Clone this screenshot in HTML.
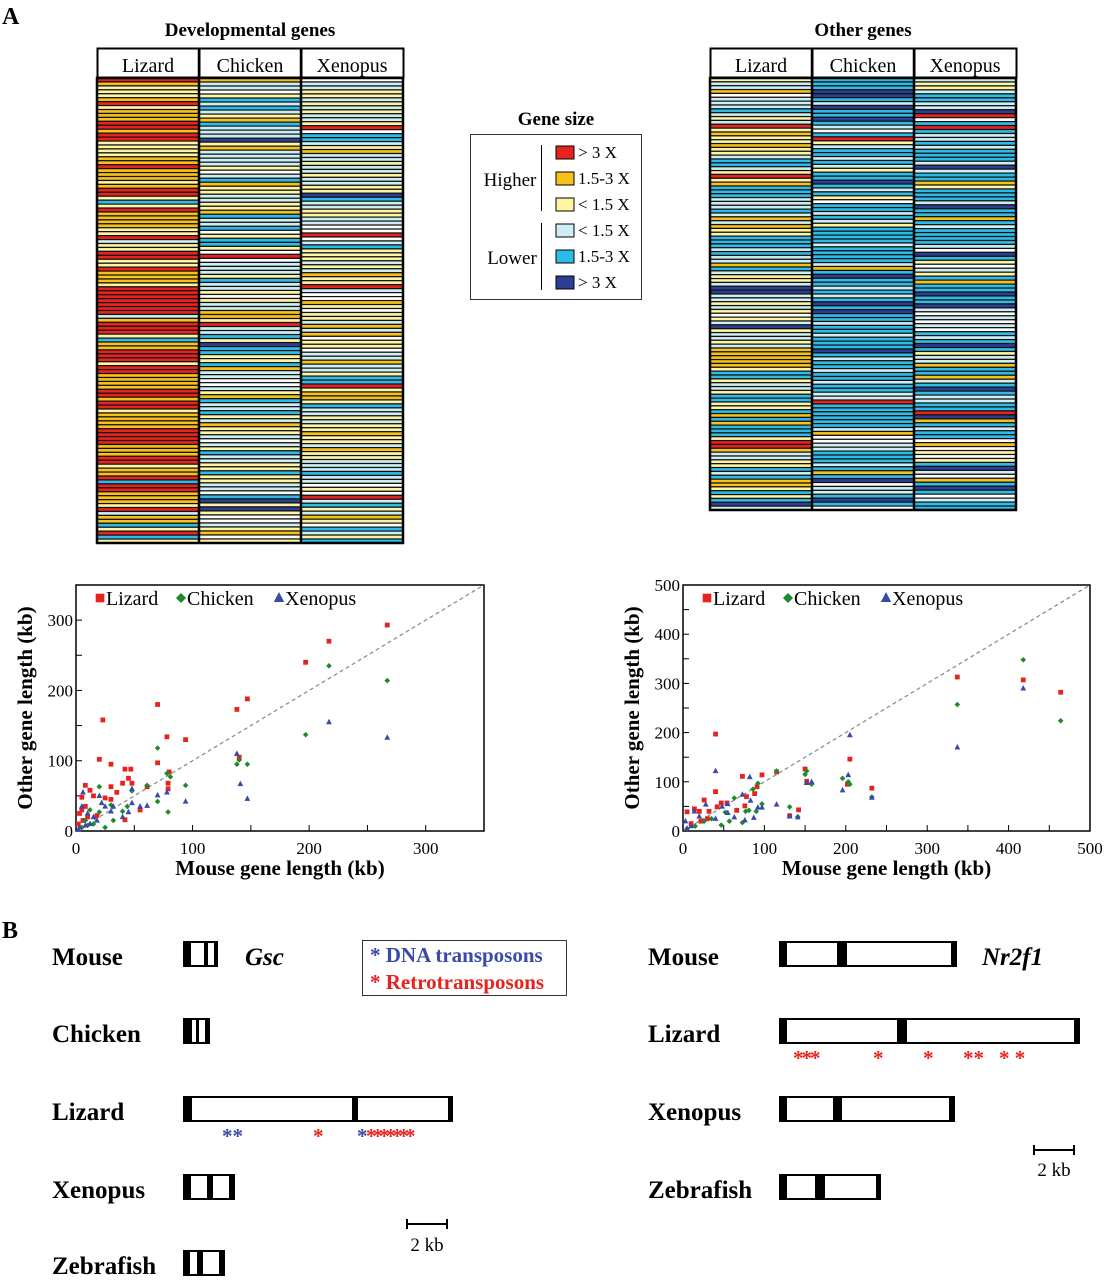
<!DOCTYPE html>
<html><head><meta charset="utf-8"><style>
body{margin:0;background:#fff;}
svg{display:block;font-family:"Liberation Serif",serif;}
</style></head><body>
<svg id="fig" width="1105" height="1280" viewBox="0 0 1105 1280" xmlns="http://www.w3.org/2000/svg">
<text x="2" y="24" font-size="24" font-weight="bold">A</text>
<text x="2" y="938" font-size="24" font-weight="bold">B</text>
<text x="250" y="36" font-size="19" font-weight="bold" text-anchor="middle">Developmental genes</text>
<text x="863" y="36" font-size="19" font-weight="bold" text-anchor="middle">Other genes</text>
<g id="hm1"></g>
<g id="hm2"></g>
<g>
<text x="556" y="125" font-size="19" font-weight="bold" text-anchor="middle">Gene size</text>
<rect x="470.5" y="134.5" width="171" height="165" fill="none" stroke="#333"/>
<line x1="541.5" y1="145" x2="541.5" y2="211" stroke="#000"/>
<line x1="541.5" y1="223" x2="541.5" y2="290" stroke="#000"/>
<text x="510" y="186" font-size="19" text-anchor="middle">Higher</text>
<text x="512" y="264" font-size="19" text-anchor="middle">Lower</text>
<g id="lgsw"></g>
</g>
<g id="sc1"></g>
<g id="sc2"></g>
<g id="pb" font-size="25">
<text x="52" y="965" font-weight="bold">Mouse</text>
<text x="52" y="1042" font-weight="bold">Chicken</text>
<text x="52" y="1120" font-weight="bold">Lizard</text>
<text x="52" y="1198" font-weight="bold">Xenopus</text>
<text x="52" y="1274" font-weight="bold">Zebrafish</text>
<text x="245" y="965" font-weight="bold" font-style="italic">Gsc</text>
<text x="648" y="965" font-weight="bold">Mouse</text>
<text x="648" y="1042" font-weight="bold">Lizard</text>
<text x="648" y="1120" font-weight="bold">Xenopus</text>
<text x="648" y="1198" font-weight="bold">Zebrafish</text>
<text x="982" y="965" font-weight="bold" font-style="italic">Nr2f1</text>
<g>
<rect x="362.5" y="940.5" width="204" height="55" fill="#fff" stroke="#333"/>
<text x="370" y="962" font-size="21" font-weight="bold" fill="#3a4aa8">* DNA transposons</text>
<text x="370" y="989" font-size="21" font-weight="bold" fill="#e8231f">* Retrotransposons</text>
</g>
<line x1="407" y1="1224" x2="447" y2="1224" stroke="#000" stroke-width="2"/>
<line x1="407" y1="1219" x2="407" y2="1229" stroke="#000" stroke-width="2"/><line x1="447" y1="1219" x2="447" y2="1229" stroke="#000" stroke-width="2"/>
<text x="427" y="1251" font-size="19" text-anchor="middle">2 kb</text>
<line x1="1034" y1="1150" x2="1074" y2="1150" stroke="#000" stroke-width="2"/>
<line x1="1034" y1="1145" x2="1034" y2="1155" stroke="#000" stroke-width="2"/><line x1="1074" y1="1145" x2="1074" y2="1155" stroke="#000" stroke-width="2"/>
<text x="1054" y="1176" font-size="19" text-anchor="middle">2 kb</text>
<text x="222" y="1143" font-size="21" font-weight="bold" fill="#3a4aa8">**</text>
<text x="313" y="1143" font-size="21" font-weight="bold" fill="#e8231f">*</text>
<text x="357" y="1143" font-size="21" font-weight="bold" fill="#3a4aa8">*</text>
<text x="366" y="1143" font-size="21" font-weight="bold" fill="#e8231f" letter-spacing="-4">*******</text>
<text x="793" y="1065" font-size="21" font-weight="bold" fill="#e8231f" letter-spacing="-2">***</text>
<text x="873" y="1065" font-size="21" font-weight="bold" fill="#e8231f">*</text>
<text x="923" y="1065" font-size="21" font-weight="bold" fill="#e8231f">*</text>
<text x="963" y="1065" font-size="21" font-weight="bold" fill="#e8231f">**</text>
<text x="999" y="1065" font-size="21" font-weight="bold" fill="#e8231f">* *</text>
</g>
</svg>
<script>
const NS="http://www.w3.org/2000/svg";
const COL={R:"#e8231f",O:"#f7c11a",Y:"#fdf4a4",W:"#ffffff",L:"#cdeef2",B:"#2fbbe8",N:"#2c3f92"};
const devLizard="ROYYYORYOOORRORRYYYYOOROOOYORRYBYROOOOYYRLYYRRYYROOOYRRRRRRRLORRRYBOORRRYRROOOORRORRYOOOORRRROOORRYOORBRROOOYRLOOBYRBY";
const devChicken="OLLWYBLBLYOBLLLNYOLLLLYWLBOYYLLYYOBLLBWYBBYWRWLLLYBLLYWYLLOOYRLLBYNBBYYBOLLWWLYOBLLBYLOYYLWLYBLLYYBYYLLWBNYNYWWLYOWY";
const devXenopus="WLLYYLYLYLLYRWBBLYOLLYLLYLLYYNBLLYYLLWWRWLBYYYLYLOYYRLWWOYWYYLOLOWYYWLLOLLYBBRYOOYBLLYLYYOYYLOYYLLLBLLWYWRLBYLOYWBLYB";
const othLizard="YLLOWLLLBLYLRYOYYOYYLBBLYRYOBBBLLLBLOLOYYBBBLBLLOBLYYLNNLLYLYWYLNYLLYLOOOOOYBBYLLYBBYYBOBOBBBYRROLLYYBLBOOYBYBNL";
const othChicken="BBBNNBLNBBNBLWBRYLBBLBLYBBNBLBYWBBLBLYBBBBLBBBBLOBNBBLBLBNBNBBLBBLBBBNBLBBLBBLBBLLRBBBBBBLOWWLLBBBLBOBNWLLBNBW";
const othXenopus="LYYLBBLLNRWBRBLLBLBBBLNLBBOYBBBLNBBOBLBBBBLWNBYWLYBOBBNBBNLWLWLWBLBNBYLLOBBOLBNBLLBBRNOBLBBWOWYWYBNLWOBNBWLBB";
const d1LizX=[267,217,197,147,138,140,70,78,94,23,20,30,70,42,47,45,40,48,80,79,79,61,30,35,25,15,12,8,5,30,55,42,5,3,8,10,2,6,18];
const d1LizY=[293,270,240,188,173,105,180,134,130,158,102,95,97,88,88,75,68,68,84,68,60,63,63,55,47,50,58,65,48,45,30,16,30,25,35,20,10,15,22];
const d1ChkX=[267,217,197,140,138,147,70,78,81,94,61,48,70,79,40,44,30,20,25,15,8,12,20,32,5,10];
const d1ChkY=[214,235,137,101,95,95,118,82,77,65,65,57,42,27,28,35,37,63,5,10,15,30,27,15,5,8];
const d1XenX=[217,267,138,141,147,94,70,78,61,55,48,48,45,40,30,32,20,22,25,6,5,10,15,12,3,8,2,18];
const d1XenY=[155,133,110,67,46,42,51,55,36,35,60,40,27,20,28,35,50,40,35,55,35,25,20,10,5,8,2,15];
const d2LizX=[337,418,464,205,232,202,150,152,115,97,73,91,88,78,76,40,40,142,131,66,54,47,42,26,32,5,20,14,10,30,22];
const d2LizY=[313,307,282,146,87,95,126,101,120,114,111,90,76,70,51,197,80,43,31,42,57,57,49,63,40,39,40,45,15,25,20];
const d2ChkX=[418,337,464,115,152,150,158,196,203,205,232,131,141,97,92,90,86,81,77,73,63,57,52,47,35,26,15,5];
const d2ChkY=[348,257,224,122,122,115,95,107,100,95,69,49,29,55,97,40,85,42,40,17,67,20,38,12,25,20,10,5];
const d2XenX=[418,337,205,203,196,232,152,158,115,131,141,97,92,87,82,83,76,73,63,55,55,40,48,40,28,20,14,10,3,5];
const d2XenY=[290,170,195,114,83,68,98,100,54,30,28,48,48,27,110,62,22,74,28,37,55,122,50,25,54,30,40,10,20,5];
const ticks1=[0,100,200,300];
const ticks2=[0,100,200,300,400,500];
const legendCats=["R","O","Y","L","B","N"];
const legendLabels=["> 3 X","1.5-3 X","< 1.5 X","< 1.5 X","1.5-3 X","> 3 X"];

function el(tag,attrs,parent){const e=document.createElementNS(NS,tag);for(const k in attrs)e.setAttribute(k,attrs[k]);parent.appendChild(e);return e;}

function heatmap(g,x0,top,bottom,names,cols){
  const colW=102;
  names.forEach((n,i)=>{
    const hx=x0+i*colW;
    const r=el("rect",{x:hx+0.5,y:48.5,width:colW,height:29,fill:"#fff",stroke:"#000","stroke-width":2},g);
    
    
    const t=el("text",{x:hx+colW/2,y:72,"font-size":20,"text-anchor":"middle"},g);t.textContent=n;
    
    
  });
  cols.forEach((s,i)=>{
    const n=s.length,h=(bottom-top)/n,hx=x0+i*colW;
    for(let j=0;j<n;j++){
      const c=el("rect",{x:hx,y:top+j*h,width:colW,height:h,fill:COL[s[j]],stroke:"#111","stroke-width":1.2},g);
      
      
    }
  });
  const b=el("rect",{x:x0,y:top,width:colW*3,height:bottom-top,fill:"none",stroke:"#000","stroke-width":2.5},g);
  
  
  for(let i=1;i<3;i++){el("line",{x1:x0+i*colW,x2:x0+i*colW,y1:48,y2:bottom,stroke:"#000","stroke-width":2.5},g);}
}
heatmap(document.getElementById("hm1"),97,78,543,["Lizard","Chicken","Xenopus"],[devLizard,devChicken,devXenopus]);
heatmap(document.getElementById("hm2"),710,78,510,["Lizard","Chicken","Xenopus"],[othLizard,othChicken,othXenopus]);

const lg=document.getElementById("lgsw");
legendCats.forEach((c,i)=>{
  const y=146+i*26;
  const r=el("rect",{x:556,y:y,width:18,height:13,fill:COL[c],stroke:"#000"},lg);
  
  
  const t=el("text",{x:578,y:y+12,"font-size":17},lg);t.textContent=legendLabels[i];
  
  
});

function marker(g,type,x,y,color,s){
  s=s||1;let m;
  if(type==="s") m=el("rect",{x:x-2.4*s,y:y-2.4*s,width:4.8*s,height:4.8*s,fill:color},g);
  else if(type==="d") m=el("polygon",{points:`${x},${y-2.8*s} ${x+2.8*s},${y} ${x},${y+2.8*s} ${x-2.8*s},${y}`,fill:color},g);
  else m=el("polygon",{points:`${x},${y-3.3*s} ${x+2.9*s},${y+2.2*s} ${x-2.9*s},${y+2.2*s}`,fill:color},g);
  return m;
}
function scatter(g,L,R,T,B,xmax,ymax,xt,yt,series,legPos){
  const sx=v=>L+v/xmax*(R-L), sy=v=>B-v/ymax*(B-T);
  const f=el("rect",{x:L,y:T,width:R-L,height:B-T,fill:"none",stroke:"#000","stroke-width":1.5},g);
  
  
  const d=el("line",{x1:sx(0),y1:sy(0),x2:R,y2:sy(Math.min(xmax,ymax)),stroke:"#888","stroke-width":1.2,"stroke-dasharray":"4,3"},g);
  
  
  xt.forEach(v=>{el("line",{x1:sx(v),x2:sx(v),y1:B,y2:B-6,stroke:"#000"},g);
    const t=el("text",{x:sx(v),y:B+23,"font-size":17,"text-anchor":"middle"},g);t.textContent=v;
    });
  [50,150,250,350,450].forEach(v=>{if(v<xmax)el("line",{x1:sx(v),x2:sx(v),y1:B,y2:B-6,stroke:"#000"},g);});
  yt.forEach(v=>{el("line",{x1:L,x2:L+6,y1:sy(v),y2:sy(v),stroke:"#000"},g);
    const t=el("text",{x:L-3,y:sy(v)+6,"font-size":17,"text-anchor":"end"},g);t.textContent=v;
    });
  [50,150,250,350,450].forEach(v=>{if(v<ymax)el("line",{x1:L,x2:L+6,y1:sy(v),y2:sy(v),stroke:"#000"},g);});
  series.forEach(s=>{for(let i=0;i<s.x.length;i++){const m=marker(g,s.t,sx(s.x[i]),sy(s.y[i]),s.c,1);
    }});
  const xl=el("text",{x:(L+R)/2,y:B+44,"font-size":21,"font-weight":"bold","text-anchor":"middle"},g);xl.textContent="Mouse gene length (kb)";
  
  const yl=el("text",{x:0,y:0,"font-size":21,"font-weight":"bold","text-anchor":"middle",transform:`translate(${L-44},${(T+B)/2}) rotate(-90)`},g);yl.textContent="Other gene length (kb)";
  
  series.forEach((s,i)=>{const lx=legPos[i];marker(g,s.t,lx,T+13,s.c,1.8);const t=el("text",{x:lx+6,y:T+20,"font-size":20},g);t.textContent=s.n;
    });
}
scatter(document.getElementById("sc1"),76,484,585,831,350,350,ticks1,ticks1,[
 {n:"Lizard",t:"s",c:"#e8231f",x:d1LizX,y:d1LizY},{n:"Chicken",t:"d",c:"#1d8a2e",x:d1ChkX,y:d1ChkY},{n:"Xenopus",t:"t",c:"#3a4aa8",x:d1XenX,y:d1XenY}],[100,181,279]);
scatter(document.getElementById("sc2"),683,1090,585,831,500,500,ticks2,ticks2,[
 {n:"Lizard",t:"s",c:"#e8231f",x:d2LizX,y:d2LizY},{n:"Chicken",t:"d",c:"#1d8a2e",x:d2ChkX,y:d2ChkY},{n:"Xenopus",t:"t",c:"#3a4aa8",x:d2XenX,y:d2XenY}],[707,788,886]);

const pb=document.getElementById("pb");
function gene(name,x0,x1,y,bars){
  const r=el("rect",{x:x0+1,y:y+1,width:x1-x0-2,height:24,fill:"#fff",stroke:"#000","stroke-width":2},pb);
  
  bars.forEach(b=>{const e=el("rect",{x:b[0],y:y,width:b[1]-b[0],height:26,fill:"#000"},pb);
    });
}
gene("mouse-gsc",183,218,941,[[183,191],[204,208],[214,218]]);
gene("chicken-gsc",183,210,1018,[[183,192],[196,199],[205,210]]);
gene("lizard-gsc",183,453,1096,[[183,192],[352,358],[448,453]]);
gene("xenopus-gsc",183,235,1174,[[183,191],[207,213],[229,235]]);
gene("zebrafish-gsc",183,225,1250,[[183,190],[197,203],[219,225]]);
gene("mouse-nr2f1",779,957,941,[[779,787],[837,847],[951,957]]);
gene("lizard-nr2f1",779,1080,1018,[[779,787],[897,907],[1074,1080]]);
gene("xenopus-nr2f1",779,955,1096,[[779,787],[833,842],[949,955]]);
gene("zebrafish-nr2f1",779,881,1174,[[779,787],[815,825],[876,881]]);
</script>
</body></html>
